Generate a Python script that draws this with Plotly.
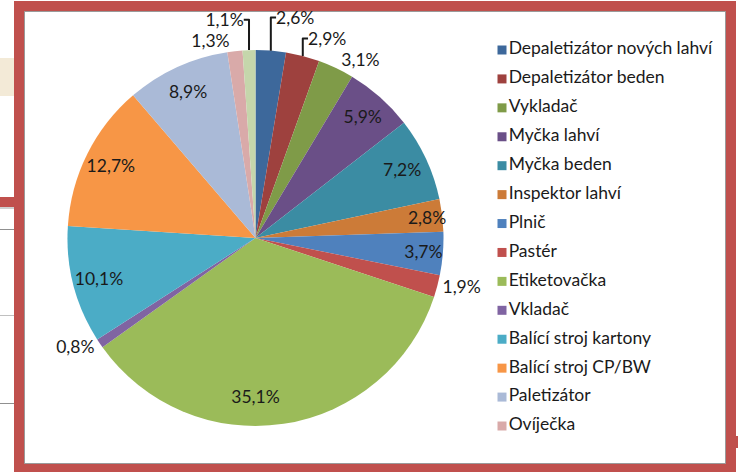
import plotly.graph_objects as go

W, H = 738, 472

labels = ["Depaletizátor nových lahví", "Depaletizátor beden", "Vykladač", "Myčka lahví",
          "Myčka beden", "Inspektor lahví", "Plnič", "Pastér", "Etiketovačka", "Vkladač",
          "Balící stroj kartony", "Balící stroj CP/BW", "Paletizátor", "Ovíječka", "Ostatní"]
values = [2.6, 2.9, 3.1, 5.9, 7.2, 2.8, 3.7, 1.9, 35.1, 0.8, 10.1, 12.7, 8.9, 1.3, 1.1]
colors = ["#3D689B", "#9E413E", "#7F9B48", "#6A4F87", "#3B8CA3", "#CC7B38", "#4F81BD",
          "#C0504D", "#9BBB59", "#8064A2", "#4BACC6", "#F79646", "#AABAD7", "#D9AAA9", "#C5D6AB"]
text_pos = ["outside", "outside", "outside", "inside", "inside", "inside", "inside",
            "outside", "inside", "outside", "inside", "inside", "inside", "outside", "outside"]
legend_labels = labels[:14]

FONT = "Lato"
FS = 17.5

def px_x(p):
    return p / W

def px_y(p):
    return 1 - p / H

cx, cy, R = 255.5, 238, 188
dom_x = [px_x(cx - R), px_x(cx + R)]
dom_y = [px_y(cy + R), px_y(cy - R)]

fig = go.Figure()

fig.add_trace(go.Pie(
    labels=labels, values=values, sort=False, direction="clockwise", rotation=0,
    marker=dict(colors=colors, line=dict(width=0)),
    textinfo="none", showlegend=False, hoverinfo="skip",
    domain=dict(x=dom_x, y=dom_y),
))

fig.add_trace(go.Pie(
    labels=labels, values=values, sort=False, direction="clockwise", rotation=0,
    hole=0.72,
    marker=dict(colors=["rgba(0,0,0,0)"] * len(values), line=dict(width=0)),
    texttemplate="%{value:.1f}%", textposition=text_pos,
    insidetextorientation="horizontal",
    textfont=dict(family=FONT, size=FS, color="#1a1a1a"),
    outsidetextfont=dict(family=FONT, size=FS, color="#1a1a1a"),
    showlegend=False, hoverinfo="skip",
    domain=dict(x=dom_x, y=dom_y),
))

idx = list(range(len(legend_labels)))
fig.add_trace(go.Scatter(
    x=[0] * len(legend_labels), y=idx, mode="markers+text",
    marker=dict(symbol="square", size=9, color=colors[:14]),
    text=legend_labels, textposition="middle right",
    textfont=dict(family=FONT, size=FS, color="#1a1a1a"),
    showlegend=False, hoverinfo="skip", cliponaxis=False,
))

step = (426 - 50) / 13
y_top = -50 / step
y_bot = 13 + (H - 426) / step

shapes = [
    # background artifacts outside the frame
    dict(type="rect", xref="paper", yref="paper", x0=0, x1=px_x(14), y0=px_y(96), y1=px_y(58),
         fillcolor="#F3EAD7", line=dict(width=0), layer="below"),
    dict(type="rect", xref="paper", yref="paper", x0=0, x1=px_x(14), y0=px_y(207), y1=px_y(197),
         fillcolor="#C0504D", line=dict(width=0), layer="below"),
    dict(type="line", xref="paper", yref="paper", x0=0, x1=px_x(14), y0=px_y(208), y1=px_y(208),
         line=dict(color="#A0A0A0", width=1), layer="below"),
    dict(type="line", xref="paper", yref="paper", x0=0, x1=px_x(14), y0=px_y(229.5), y1=px_y(229.5),
         line=dict(color="#909090", width=1), layer="below"),
    dict(type="line", xref="paper", yref="paper", x0=0, x1=px_x(14), y0=px_y(315.5), y1=px_y(315.5),
         line=dict(color="#C0C0C0", width=1), layer="below"),
    dict(type="line", xref="paper", yref="paper", x0=0, x1=px_x(14), y0=px_y(403.5), y1=px_y(403.5),
         line=dict(color="#909090", width=1), layer="below"),
    # red frame
    dict(type="rect", xref="paper", yref="paper", x0=px_x(14), x1=px_x(736), y0=0, y1=px_y(1),
         fillcolor="#C0504D", line=dict(width=0), layer="below"),
    dict(type="rect", xref="paper", yref="paper", x0=px_x(736), x1=1, y0=px_y(448), y1=px_y(436),
         fillcolor="#C0504D", line=dict(width=0), layer="below"),
    dict(type="rect", xref="paper", yref="paper", x0=px_x(24.5), x1=px_x(725.5), y0=px_y(463.5), y1=px_y(11.5),
         fillcolor="white", line=dict(color="#9A9A9A", width=1), layer="below"),
]

fig.update_layout(
    width=W, height=H, margin=dict(l=0, r=0, t=0, b=0),
    paper_bgcolor="white", plot_bgcolor="rgba(0,0,0,0)",
    separators=", ",
    showlegend=False,
    uniformtext=dict(minsize=FS, mode="show"),
    xaxis=dict(domain=[px_x(502), 1], range=[0, 1], visible=False, fixedrange=True),
    yaxis=dict(domain=[0, 1], range=[y_bot, y_top], visible=False, fixedrange=True),
    shapes=shapes,
    font=dict(family=FONT),
)

fig.write_html("out.html", config=dict(displayModeBar=False),
               post_script="document.body.style.margin='0';document.body.style.overflow='hidden';")
